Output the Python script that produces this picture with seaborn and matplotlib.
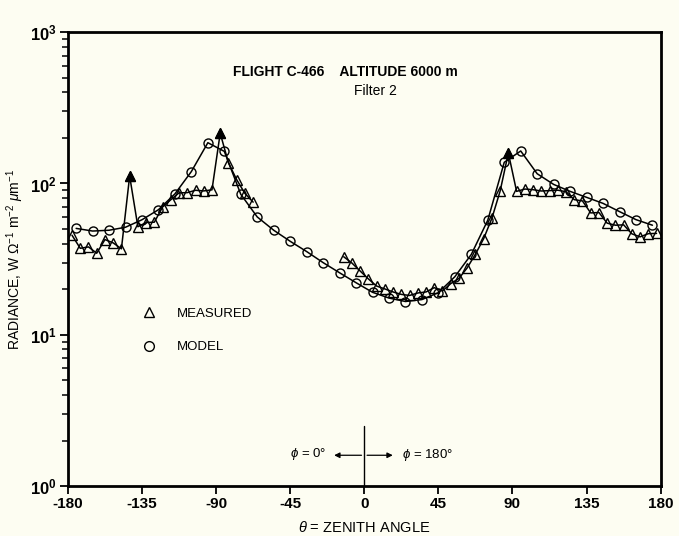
import numpy as np
import pandas as pd
import matplotlib
matplotlib.use("Agg")
import matplotlib.pyplot as plt
from matplotlib.lines import Line2D
from matplotlib.ticker import LogLocator, NullFormatter, FixedLocator
import seaborn as sns

# ---------------- data ----------------
meas_theta_a = [-177.5, -172.5, -167.5, -162.5, -157.5, -152.5, -147.5, -142.5,
                -137.5, -132.5, -127.5, -122.5, -117.5, -112.5, -107.5, -102.5,
                -97.5, -92.5, -87.5, -82.5, -77.5, -72.5, -67.5]
meas_val_a = [45.5, 37.3, 38.1, 34.6, 42.6, 40.5, 37.0, 112,
              51.8, 55.2, 55.5, 69.9, 78.1, 86.7, 87.0, 90.2,
              89.3, 90.8, 215, 137, 106, 86, 75.3]

meas_theta_b = [-12.5, -7.5, -2.5, 2.5, 7.5, 12.5, 17.5, 22.5, 27.5, 32.5,
                37.5, 42.5, 47.5, 52.5, 57.5, 62.5, 67.5, 72.5, 77.5, 82.5,
                87.5, 92.5, 97.5, 102.5, 107.5, 112.5, 117.5, 122.5, 127.5, 132.5,
                137.5, 142.5, 147.5, 152.5, 157.5, 162.5, 167.5, 172.5, 177.5]
meas_val_b = [32.8, 29.8, 26.4, 23.4, 21.0, 20.1, 19.2, 18.5, 18.2, 18.9,
              19.2, 20.5, 19.5, 21.8, 23.6, 27.7, 34.1, 43.2, 58.9, 89.1,
              159, 88.7, 91.9, 91.0, 89.2, 89.7, 90.3, 88.3, 78.2, 76.7,
              63.9, 64.3, 54.7, 53.0, 53.3, 46.5, 44.4, 46.6, 46.8]

# measured points drawn as filled arrow-heads
spike_theta = [-142.5, -87.5, 87.5]

model_theta = [-175, -165, -155, -145, -135, -125, -115, -105, -95, -85,
               -75, -65, -55, -45, -35, -25, -15, -5, 5, 15,
               25, 35, 45, 55, 65, 75, 85, 95, 105, 115,
               125, 135, 145, 155, 165, 175]
model_val = [50.5, 48.5, 49.1, 51.4, 57.6, 67.1, 85.4, 120, 186, 163,
             84.8, 60.1, 49.1, 41.5, 35.5, 30.0, 25.7, 22.1, 19.1, 17.5,
             16.6, 17.1, 19.0, 24.2, 34.0, 57.2, 138, 164, 116, 98.6,
             88.7, 81.0, 73.9, 65.2, 57.7, 53.0]

x_ticks = [-180, -135, -90, -45, 0, 45, 90, 135, 180]
y_ticks = [1, 10, 100, 1000]
y_tick_labels = [r"$\mathbf{10^{0}}$", r"$\mathbf{10^{1}}$", r"$\mathbf{10^{2}}$", r"$\mathbf{10^{3}}$"]

# ---------------- frames ----------------
meas_df = pd.DataFrame({
    "theta": meas_theta_a + meas_theta_b,
    "radiance": meas_val_a + meas_val_b,
    "segment": [0] * len(meas_theta_a) + [1] * len(meas_theta_b),
})
model_df = pd.DataFrame({"theta": model_theta, "radiance": model_val})
spike_df = meas_df[meas_df["theta"].isin(spike_theta)]

# ---------------- style ----------------
bg = "#fdfdf2"
sns.set_theme(style="ticks")
plt.rcParams["font.family"] = ["Liberation Sans", "DejaVu Sans"]
plt.rcParams["mathtext.fontset"] = "custom"
plt.rcParams["mathtext.rm"] = "Liberation Sans"
plt.rcParams["mathtext.it"] = "Liberation Sans:italic"
plt.rcParams["mathtext.bf"] = "Liberation Sans:bold"
for key in ["text.color", "axes.labelcolor", "xtick.color", "ytick.color", "axes.edgecolor"]:
    plt.rcParams[key] = "black"

fig = plt.figure(figsize=(6.79, 5.36), dpi=100, facecolor=bg)
ax = fig.add_axes([0.1, 0.093, 0.873, 0.847])
ax.set_facecolor(bg)

sns.lineplot(data=meas_df, x="theta", y="radiance", units="segment", estimator=None,
             color="black", linewidth=1.1, marker="^", markersize=6.5,
             markerfacecolor="none", markeredgecolor="black", markeredgewidth=1.0,
             ax=ax, legend=False)
sns.lineplot(data=model_df, x="theta", y="radiance", estimator=None,
             color="black", linewidth=1.1, marker="o", markersize=6.5,
             markerfacecolor="none", markeredgecolor="black", markeredgewidth=1.0,
             ax=ax, legend=False)
sns.scatterplot(data=spike_df, x="theta", y="radiance", marker="^", s=55,
                color="black", edgecolor="black", ax=ax, legend=False, zorder=4)

ax.set_yscale("log")
ax.set_xlim(-180, 180)
ax.set_ylim(1, 1000)
ax.set_xticks(x_ticks)
ax.set_xticklabels([str(t) for t in x_ticks], fontweight="bold", fontsize=11)
ax.yaxis.set_major_locator(FixedLocator(y_ticks))
ax.set_yticklabels(y_tick_labels, fontsize=12)
ax.yaxis.set_minor_locator(LogLocator(base=10, subs=np.arange(2, 10)))
ax.yaxis.set_minor_formatter(NullFormatter())
ax.tick_params(axis="both", which="major", direction="out", length=6, width=1.3,
               colors="black", pad=2)
ax.tick_params(axis="y", which="minor", direction="out", length=4, width=1.1)
for sp in ax.spines.values():
    sp.set_linewidth(2.0)
    sp.set_color("black")
    sp.set_visible(True)

ax.set_xlabel(r"$\theta$ = ZENITH ANGLE", fontsize=10.5, labelpad=6)
ax.set_ylabel(r"RADIANCE, W $\Omega^{-1}$ m$^{-2}$ $\mu$m$^{-1}$", fontsize=10, labelpad=3)

# titles
ax.text(0.468, 0.912, "FLIGHT C-466    ALTITUDE 6000 m", transform=ax.transAxes,
        ha="center", va="center", fontweight="bold", fontsize=10)
ax.text(0.518, 0.870, "Filter 2", transform=ax.transAxes,
        ha="center", va="center", fontsize=10)

# phi annotation
ax.plot([0, 0], [1.0, 2.5], color="black", lw=1.0, clip_on=False)
ax.annotate("", xy=(-20, 1.6), xytext=(0, 1.6),
            arrowprops=dict(arrowstyle="-|>", lw=0.9, color="black", mutation_scale=8))
ax.annotate("", xy=(19, 1.6), xytext=(0, 1.6),
            arrowprops=dict(arrowstyle="-|>", lw=0.9, color="black", mutation_scale=8))
ax.text(-23, 1.62, r"$\phi$ = 0°", ha="right", va="center", fontsize=9.5)
ax.text(23, 1.6, r"$\phi$ = 180°", ha="left", va="center", fontsize=9.5)

# legend
handles = [
    Line2D([], [], marker="^", ls="none", mfc="none", mec="black", mew=1.0, ms=7, label="MEASURED"),
    Line2D([], [], marker="o", ls="none", mfc="none", mec="black", mew=1.0, ms=7, label="MODEL"),
]
ax.legend(handles=handles, loc="center left", bbox_to_anchor=(0.115, 0.343),
          frameon=False, fontsize=9.5, labelspacing=1.6, handlelength=1.0,
          handletextpad=1.6, borderpad=0)

fig.savefig("out.png", dpi=100, facecolor=bg)
